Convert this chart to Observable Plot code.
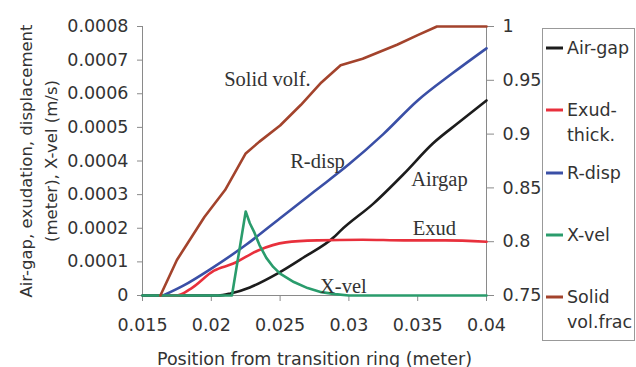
<!DOCTYPE html>
<html><head><meta charset="utf-8">
<script src="https://cdn.jsdelivr.net/npm/d3@7"></script>
<script src="https://cdn.jsdelivr.net/npm/@observablehq/plot@0.6"></script>
<style>body{margin:0;background:#fff}#c{position:relative;width:636px;height:367px}</style>
</head><body><div id="c"></div>
<script>
// Data (x in meters)
const airgapX = [0.015,0.0205,0.0214,0.0228,0.0248,0.0267,0.0289,0.0294,0.0318,0.034,0.0361,0.038,0.04];
const airgapY = [0,0,0.000006,0.000024,0.000065,0.000113,0.000173,0.000193,0.000274,0.000362,0.000452,0.000515,0.00058];
const exudX = [0.0163,0.0175,0.0185,0.0202,0.0216,0.0234,0.0254,0.0277,0.031,0.034,0.037,0.04];
const exudY = [0,0,0.00002,0.000074,0.000095,0.000134,0.000158,0.000164,0.000166,0.000164,0.000164,0.00016];
const rdispX = [0.0165,0.018,0.02,0.0225,0.025,0.0275,0.03,0.0325,0.035,0.0375,0.04];
const rdispY = [0,0.00003,0.00008,0.00015,0.00023,0.00031,0.00039,0.00048,0.00058,0.00066,0.000735];
const xvelX = [0.015,0.0215,0.0225,0.0228,0.0231,0.0235,0.024,0.0245,0.025,0.026,0.027,0.028,0.029,0.03,0.04];
const xvelY = [0,0,0.00025,0.000215,0.00019,0.00015,0.000112,0.000085,0.000065,0.00004,0.000022,0.00001,0.000004,0,0];
const solidX = [0.0163,0.0175,0.019,0.0195,0.021,0.0225,0.0235,0.025,0.0265,0.028,0.0294,0.031,0.0335,0.035,0.0364,0.04];
const solidY = [0.75,0.783,0.813,0.823,0.848,0.882,0.893,0.908,0.927,0.948,0.964,0.970,0.983,0.992,1.0,1.0];

const xTicks = [0.015,0.02,0.025,0.03,0.035,0.04];
const yTicks = [0,0.0001,0.0002,0.0003,0.0004,0.0005,0.0006,0.0007,0.0008];
const y2Ticks = [0.75,0.8,0.85,0.9,0.95,1];

const seriesNames = ["Air-gap","Exud-\nthick.","R-disp","X-vel","Solid\nvol.frac"];
const colors = ["#1c1c1c","#e8303c","#3a4fa6","#2a9c6c","#a3432c"];

const annX = [0.02408,0.02772,0.03658,0.03622,0.0296];
const annY = [0.000622,0.000378,0.000327,0.000181,0.0000089];
const annText = ["Solid volf.","R-disp","Airgap","Exud","X-vel"];

// right axis mapping: 0.75..1 -> 0..0.0008
const toLeft = v => (v - 0.75) / 0.25 * 0.0008;
const fromLeft = d => 0.75 + d / 0.0008 * 0.25;

const toRows = (xs, ys, f) => xs.map((x, i) => ({x, y: f ? f(ys[i]) : ys[i]}));
const series = [
  {rows: toRows(airgapX, airgapY), curve: "monotone-x"},
  {rows: toRows(exudX, exudY), curve: "monotone-x"},
  {rows: toRows(rdispX, rdispY), curve: "monotone-x"},
  {rows: toRows(xvelX, xvelY), curve: "linear"},
  {rows: toRows(solidX, solidY, toLeft), curve: "linear"}
];

const font = "DejaVu Sans, sans-serif";
const axisColor = "#8a8a8a";
const ann = annText.map((t, i) => ({x: annX[i], y: annY[i], t}));

const plot = Plot.plot({
  width: 636, height: 367,
  marginLeft: 142, marginRight: 150, marginTop: 26, marginBottom: 72,
  style: {fontFamily: font, fontSize: "17px", color: "#333", background: "#fff"},
  x: {domain: [0.015, 0.04]},
  y: {domain: [0, 0.0008]},
  marks: [
    Plot.ruleY([0], {stroke: axisColor}),
    Plot.ruleX([0.015], {stroke: axisColor}),
    Plot.ruleX([0.04], {stroke: axisColor}),
    Plot.axisX({ticks: xTicks, tickFormat: d => String(+d.toFixed(4)), tickSize: 6, tickPadding: 17, stroke: axisColor, fill: "#333", fontSize: 17.5, label: null}),
    Plot.axisY({ticks: yTicks, tickFormat: d => d === 0 ? "0" : d.toFixed(4), tickSize: 5, tickPadding: 9, stroke: axisColor, fill: "#333", fontSize: 17.5, label: null}),
    Plot.axisY({anchor: "right", ticks: y2Ticks.map(toLeft), tickFormat: d => String(+fromLeft(d).toFixed(2)), tickSize: 7, tickPadding: 9, stroke: axisColor, fill: "#333", fontSize: 17.5, label: null}),
    ...series.map((s, i) => Plot.line(s.rows, {x: "x", y: "y", stroke: colors[i], strokeWidth: 2.6, curve: s.curve})),
    Plot.text(ann, {x: "x", y: "y", text: "t", fontFamily: "Liberation Serif, serif", fontSize: 20.5, fill: "#333", lineAnchor: "bottom", textAnchor: "middle"}),
    Plot.text(["Position from transition ring (meter)"], {frameAnchor: "bottom", dy: 69, lineAnchor: "bottom", textAnchor: "middle", fontSize: 17.5, fill: "#333"}),
    Plot.text(["Air-gap, exudation, displacement\n(meter), X-vel (m/s)"], {frameAnchor: "left", dx: -106, rotate: -90, textAnchor: "middle", lineAnchor: "middle", lineHeight: 1.5, fontSize: 16.5, fill: "#333"})
  ]
});
document.getElementById("c").appendChild(plot);

// Legend
const svg = d3.select(plot);
const lg = svg.append("g").attr("font-family", font).attr("font-size", 17.5).attr("fill", "#333").attr("text-anchor", "start");
lg.append("rect").attr("x", 542.5).attr("y", 28.5).attr("width", 92).attr("height", 312).attr("fill", "none").attr("stroke", "#999");
const legY = [48, 110, 173, 235, 297];
seriesNames.forEach((n, i) => {
  lg.append("line").attr("x1", 546).attr("x2", 563).attr("y1", legY[i]).attr("y2", legY[i]).attr("stroke", colors[i]).attr("stroke-width", 3);
  const t = lg.append("text").attr("x", 567).attr("y", legY[i]);
  n.split("\n").forEach((ln, j) => t.append("tspan").attr("x", 567).attr("dy", j === 0 ? "0.36em" : "1.4em").text(ln));
});
</script></body></html>
